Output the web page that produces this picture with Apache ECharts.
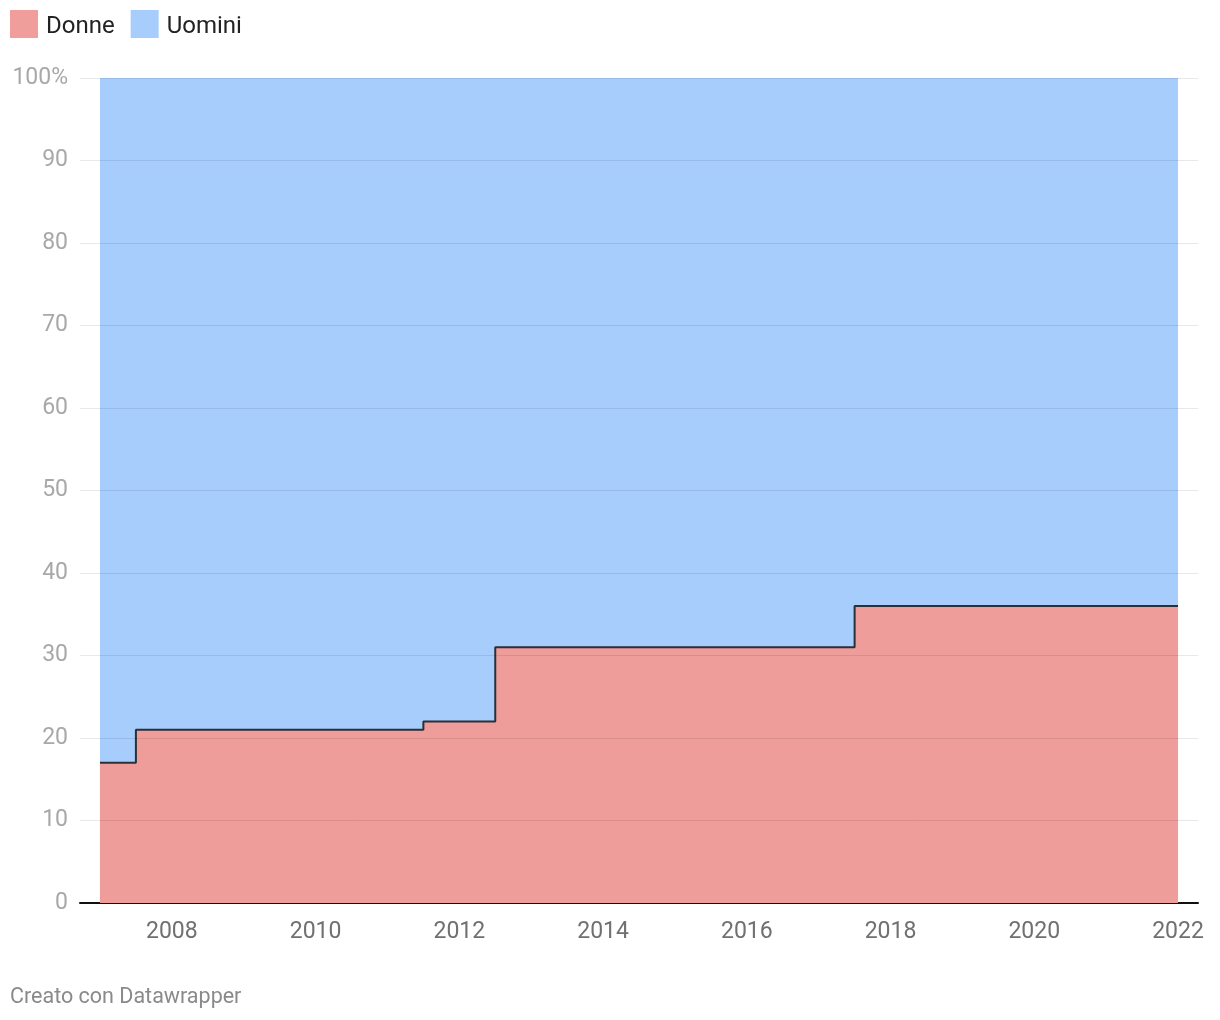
<!DOCTYPE html>
<html>
<head>
<meta charset="utf-8">
<script src="https://cdn.jsdelivr.net/npm/echarts@6/dist/echarts.min.js"></script>
<style>html,body{margin:0;padding:0;background:#fff;}#c{width:1220px;height:1020px;}</style>
</head>
<body>
<div id="c"></div>
<script>
const years = [2007,2008,2009,2010,2011,2012,2013,2014,2015,2016,2017,2018,2019,2020,2021,2022];
const donne = [17,21,21,21,21,22,31,31,31,31,31,36,36,36,36,36];
const uomini = [83,79,79,79,79,78,69,69,69,69,69,64,64,64,64,64];
const xTicks = [2008,2010,2012,2014,2016,2018,2020,2022];
const yTicks = [0,10,20,30,40,50,60,70,80,90,100];

// stacked top of Uomini = Donne + Uomini (computed from the arrays)
const uominiTop = uomini.map((v,i)=>v+donne[i]);

const chart = echarts.init(document.getElementById('c'), null, {renderer:'canvas'});
const font = 'Roboto, "Noto Sans", sans-serif';
chart.setOption({
  animation:false,
  textStyle:{fontFamily:font},
  title:{text:'Creato con Datawrapper', left:10, top:987, padding:0, textStyle:{fontSize:21.5, fontWeight:'normal', color:'#8a8a8a', fontFamily:font}},
  legend:{left:10, top:10, padding:0, itemWidth:28, itemHeight:28, itemGap:16, icon:'rect',
    formatter:'{a|{name}}',
    textStyle:{fontSize:24, color:'#222', fontFamily:font,
      rich:{a:{fontSize:24, color:'#222', fontFamily:font, padding:[6,0,0,3]}}},
    data:['Donne','Uomini']},
  grid:{left:80, right:22, top:78, bottom:117, containLabel:false},
  xAxis:{type:'value', min:2007-20/72, max:2022+20/72,
    axisLine:{show:true, lineStyle:{color:'#111', width:2}},
    axisTick:{show:false}, splitLine:{show:false},
    axisLabel:{customValues:xTicks, fontSize:23, color:'#707070', margin:18, fontFamily:font,
      formatter:v=>String(v)}
  },
  yAxis:{type:'value', min:0, max:100, interval:10, z:5,
    axisLine:{show:false}, axisTick:{show:false},
    splitLine:{show:true, lineStyle:{color:'rgba(0,0,0,0.09)', width:1}},
    axisLabel:{fontSize:23, color:'#a8a8a8', margin:12, fontFamily:font,
      formatter:v=> v===100 ? '100%' : String(v)}
  },
  series:[
    {name:'Uomini', type:'line', step:'middle', symbol:'none', z:1,
     data: years.map((y,i)=>[y,uominiTop[i]]),
     itemStyle:{color:'#a7cdfd'},
     lineStyle:{color:'#a7cdfd', width:0, opacity:0},
     areaStyle:{color:'#a7cdfd', opacity:1}},
    {name:'Donne', type:'line', step:'middle', symbol:'none', z:2,
     data: years.map((y,i)=>[y,donne[i]]),
     itemStyle:{color:'#f09e9b'},
     lineStyle:{color:'#2b2f36', width:2},
     areaStyle:{color:'#ef9d9a', opacity:1}}
  ]
});
</script>
</body>
</html>
